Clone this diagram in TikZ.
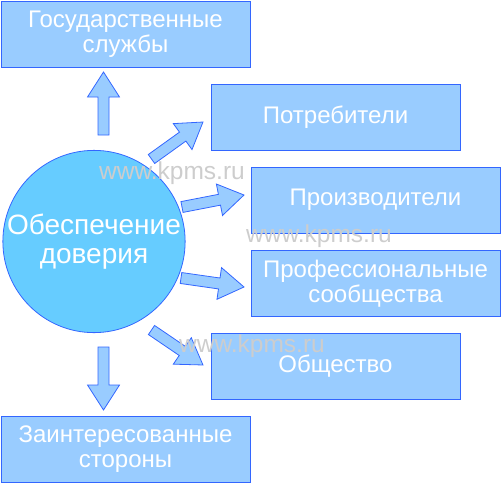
\documentclass[tikz,border=0pt]{standalone}
\usepackage{fontspec}
\setmainfont{Liberation Sans}
\usetikzlibrary{calc}
\definecolor{boxfill}{RGB}{153,204,255}
\definecolor{boxline}{RGB}{51,102,255}
\definecolor{circfill}{RGB}{102,204,255}
\definecolor{markgray}{RGB}{205,205,205}
% block arrow from #1 to #2
\newcommand{\flowarrow}[2]{%
  \path let \p1=($(#2)-(#1)$), \n1={atan2(\y1,\x1)}, \n2={veclen(\x1,\y1)} in
    \pgfextra{\xdef\flowang{\n1}\xdef\flowlen{\n2}};
  \begin{scope}[shift={(#1)},rotate=\flowang]
    \draw[flow] (0pt,-5.5pt) -- (\flowlen-25pt,-5.5pt) -- (\flowlen-25pt,-16pt)
      -- (\flowlen,0pt) -- (\flowlen-25pt,16pt) -- (\flowlen-25pt,5.5pt)
      -- (0pt,5.5pt) -- cycle;
  \end{scope}}
\tikzset{
  rectnode/.style={
  draw=boxline,
  fill=boxfill,
  line width=0.8pt,
  minimum width=249pt,
  minimum height=66pt,
  inner sep=0pt,
  align=center,
  text=white,
  font=\fontsize{24}{24.5}\selectfont
  },
  hub/.style={circle,draw=boxline,fill=circfill,line width=0.8pt,
   minimum size=181pt,inner sep=0pt,align=center,text=white,
   font=\fontsize{28}{29}\selectfont},
  flow/.style={draw=boxline,fill=boxfill,line width=0.8pt,line join=miter},
  watermark/.style={text=markgray,font=\fontsize{24.5}{25}\selectfont,inner sep=0pt}
}
\begin{document}
\begin{tikzpicture}[x=1pt,y=-1pt]
  \useasboundingbox (0,0) rectangle (501,483);

  \node [hub] (trust) at (94,241.5) {Обеспечение\\доверия};

  \node [rectnode] (gov) at (125.5,34) {Государственные\\службы};
  \node [rectnode] (cons) at (335.5,117.5) {Потребители};
  \node [rectnode] (prod) at (375.5,200) {Производители};
  \node [rectnode] (prof) at (375.5,283.5) {Профессиональные\\сообщества};
  \node [rectnode] (soc) at (335.5,366.5) {Общество};
  \node [rectnode] (stake) at (125.5,449) {Заинтересованные\\стороны};

  % arrow ends
  \coordinate (a1s) at (103.5,135);  \coordinate (a1e) at (103.5,72);
  \coordinate (a2s) at (151.5,159);  \coordinate (a2e) at (203,122);
  \coordinate (a3s) at (182,207);    \coordinate (a3e) at (244,195);
  \coordinate (a4s) at (181,278);    \coordinate (a4e) at (244,287);
  \coordinate (a5s) at (151.5,330);  \coordinate (a5e) at (203,365);
  \coordinate (a6s) at (103.5,347);  \coordinate (a6e) at (103.5,410);
  \flowarrow{a1s}{a1e}
  \flowarrow{a2s}{a2e}
  \flowarrow{a3s}{a3e}
  \flowarrow{a4s}{a4e}
  \flowarrow{a5s}{a5e}
  \flowarrow{a6s}{a6e}

  % watermarks
  \node [watermark] (wm1) at (172,173) {www.kpms.ru};
  \node [watermark] (wm2) at (319,236) {www.kpms.ru};
  \node [watermark] (wm3) at (252,346) {www.kpms.ru};
\end{tikzpicture}
\end{document}
